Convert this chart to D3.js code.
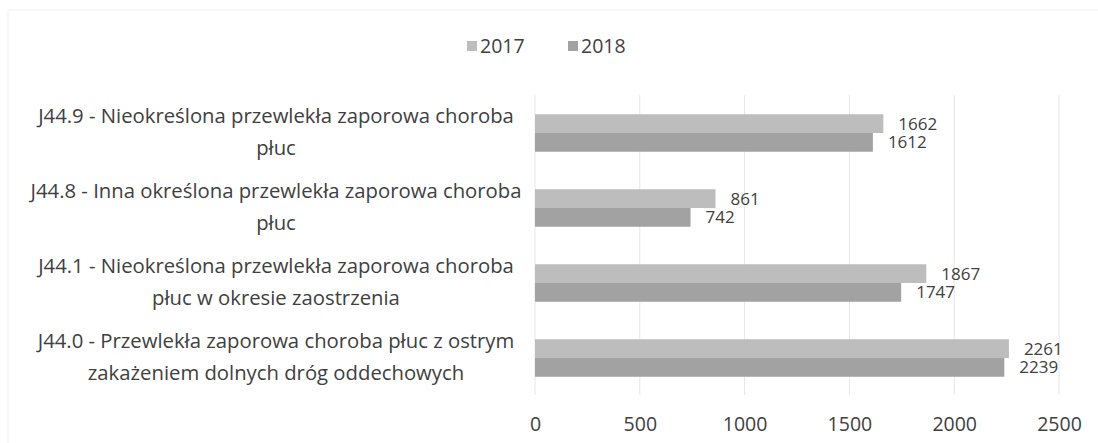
<!DOCTYPE html>
<html lang="pl">
  <head>
    <meta charset="utf-8">
    <title>J44</title>
    <script src="https://d3js.org/d3.v7.min.js"></script>
    <style>
      body { margin: 0; background: #fff; }
      text { font-family: "Open Sans", sans-serif; fill: #404040; }
    </style>
  </head>
  <body>
    <div id="chart"></div>
    <script>
      // categories top to bottom, "\n" = line break as in the original
      let categories = [
        "J44.9 - Nieokreślona przewlekła zaporowa choroba\npłuc",
        "J44.8 - Inna określona przewlekła zaporowa choroba\npłuc",
        "J44.1 - Nieokreślona przewlekła zaporowa choroba\npłuc w okresie zaostrzenia",
        "J44.0 - Przewlekła zaporowa choroba płuc z ostrym\nzakażeniem dolnych dróg oddechowych"
      ];
      let series = ["2017", "2018"];
      let values2017 = [1662, 861, 1867, 2261];
      let values2018 = [1612, 742, 1747, 2239];
      let ticks = [0, 500, 1000, 1500, 2000, 2500];

      let colors = { "2017": "#bdbdbd", "2018": "#a2a2a2" };

      let w = 1098, h = 443;
      let svg = d3.select("#chart").append("svg")
                  .attr("width", w)
                  .attr("height", h);

      // faint outer frame from the scan
      svg.append("rect")
         .attr("x", 8).attr("y", 10)
         .attr("width", 1100).attr("height", 460)
         .attr("fill", "none")
         .attr("stroke", "#f0f0f0");

      let x = d3.scaleLinear().domain([0, 2500]).range([535, 1059]);
      let y = d3.scaleBand().domain(categories)
                .range([95.5, 395.5])
                .paddingInner(0.5).paddingOuter(0.25);
      let ySub = d3.scaleBand().domain(series).range([0, y.bandwidth()]);

      // gridlines
      svg.append("g").selectAll("line")
         .data(ticks)
         .enter()
         .append("line")
         .attr("x1", d => x(d)).attr("x2", d => x(d))
         .attr("y1", 95).attr("y2", 395)
         .attr("stroke", "#e6e6e6");

      // tick labels (axis without domain/ticks)
      let axis = svg.append("g")
                    .attr("transform", "translate(0,416)")
                    .call(d3.axisBottom(x).tickValues(ticks).tickSize(0).tickFormat(d3.format("d")));
      axis.select(".domain").remove();
      axis.selectAll("text")
          .attr("font-size", "19.5px")
          .attr("font-family", "Open Sans")
          .attr("fill", "#404040")
          .attr("dy", "0.6em");

      let rows = [];
      categories.forEach(function(c, i){
        rows.push({cat: c, s: "2017", v: values2017[i]});
        rows.push({cat: c, s: "2018", v: values2018[i]});
      });

      svg.append("g").selectAll("rect")
         .data(rows)
         .enter()
         .append("rect")
         .attr("x", x(0))
         .attr("y", d => y(d.cat) + ySub(d.s))
         .attr("width", d => x(d.v) - x(0))
         .attr("height", ySub.bandwidth())
         .attr("fill", d => colors[d.s]);

      // value labels
      svg.append("g").selectAll("text")
         .data(rows)
         .enter()
         .append("text")
         .text(d => d.v)
         .attr("x", d => x(d.v) + 15)
         .attr("y", d => y(d.cat) + ySub(d.s) + ySub.bandwidth() / 2)
         .attr("dy", "0.36em")
         .attr("font-size", "17px");

      // category labels
      let labels = svg.append("g").selectAll("text")
         .data(categories)
         .enter()
         .append("text")
         .attr("text-anchor", "middle")
         .attr("font-size", "20.3px")
         .attr("y", d => y(d) + y.bandwidth() / 2);
      labels.each(function(d){
        let lines = d.split("\n");
        let t = d3.select(this);
        lines.forEach(function(line, k){
          t.append("tspan")
           .attr("x", 276)
           .attr("dy", k == 0 ? (-(lines.length - 1) * 16 + 6) : 32)
           .text(line);
        });
      });

      // legend
      let legend = svg.append("g").attr("transform", "translate(467,46)");
      let lx = 0;
      series.forEach(function(s){
        legend.append("rect")
              .attr("x", lx).attr("y", -5)
              .attr("width", 10).attr("height", 10)
              .attr("fill", colors[s]);
        legend.append("text")
              .attr("x", lx + 13).attr("y", 0)
              .attr("dy", "0.36em")
              .attr("font-size", "19.5px")
              .text(s);
        lx += 101;
      });
    </script>
  </body>
</html>
